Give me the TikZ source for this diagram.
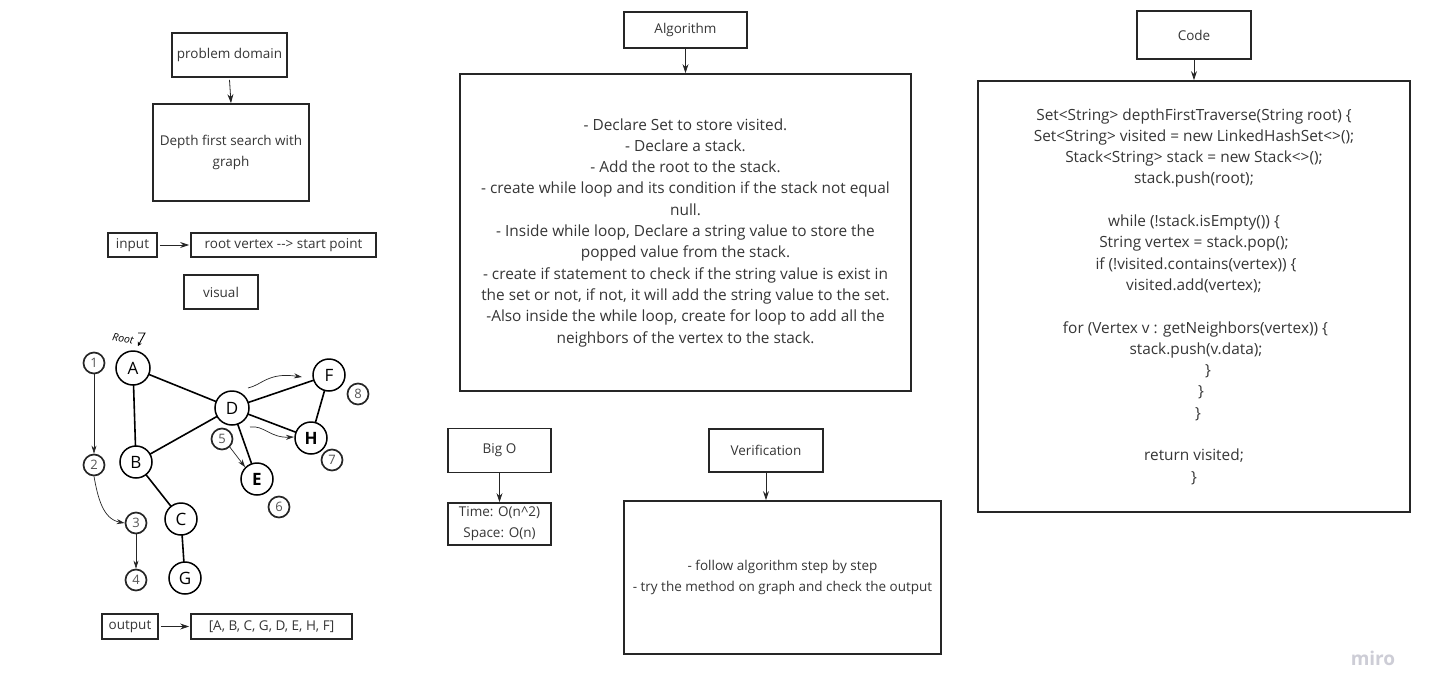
\documentclass[tikz,border=0pt]{standalone}
\usepackage{fontspec}
\setmainfont{Open Sans}
\usetikzlibrary{arrows.meta}
\definecolor{boxline}{HTML}{262626}
\definecolor{txt}{HTML}{363636}
\definecolor{numtxt}{HTML}{555555}
\definecolor{logo}{HTML}{CDCDD6}
\begin{document}
\begin{tikzpicture}[x=1pt,y=-1pt,
  box/.style={draw=boxline, line width=1.7pt, rectangle, inner sep=0pt, align=center,
    text=txt, font=\fontsize{13.5}{21}\selectfont},
  bigtext/.style={font=\fontsize{15.4}{21.3}\selectfont},
  flow/.style={-{Stealth[length=9pt,width=6pt]}, line width=0.8pt, draw=boxline},
  vtx/.style={circle, draw=black, line width=1.5pt, fill=white, minimum size=32pt, inner sep=0pt,
    font=\fontsize{17}{17}\selectfont},
  num/.style={circle, draw=boxline, line width=1.7pt, fill=white, minimum size=21pt, inner sep=0pt,
    text=numtxt, font=\fontsize{13}{13}\selectfont},
  edge/.style={line width=1.6pt, draw=black},
  hint/.style={-{Stealth[length=8pt,width=5pt]}, line width=0.7pt, draw=boxline}]
\useasboundingbox (0,0) rectangle (1430,699);
\fill[white] (0,0) rectangle (1430,699);

% ---- problem domain column ----
\node[box, minimum width=115pt, minimum height=44pt] (pd) at (229.5,55) {problem domain};
\node[box, minimum width=156pt, minimum height=97pt] (dfs) at (231,152.5) {Depth first search with\\graph};
\draw[flow] (pd.south) ++(0,2) coordinate (pds) (pds) -- (dfs.north);
\node[box, minimum width=49pt, minimum height=24pt] (inp) at (132.5,245) {input};
\node[box, minimum width=185pt, minimum height=24pt] (rootv) at (283.5,245) {root vertex {-}{-}> start point};
\draw[flow, shorten <=2pt, shorten >=1pt] (inp.east) -- (rootv.west);
\node[box, minimum width=74pt, minimum height=34pt] (vis) at (221,292) {visual};
\node[box, minimum width=56pt, minimum height=25pt] (outp) at (130,626.5) {output};
\node[box, minimum width=161pt, minimum height=25pt] (res) at (271.5,626.5) {[A, B, C, G, D, E, H, F]};
\draw[flow, shorten <=2pt, shorten >=1pt] (outp.east) -- (res.west);

% ---- graph ----
\draw[edge] (133,368) coordinate (pA) -- (232,408) coordinate (pD);
\draw[edge] (pA) -- (136,462) coordinate (pB);
\draw[edge] (pB) -- (pD);
\draw[edge] (pD) -- (329,375) coordinate (pF);
\draw[edge] (pD) -- (311,438) coordinate (pH);
\draw[edge] (pD) -- (257,479) coordinate (pE);
\draw[edge] (pF) -- (pH);
\draw[edge] (pB) -- (181,519) coordinate (pC);
\draw[edge] (pC) -- (185,578) coordinate (pG);
\node[vtx, minimum size=34pt] (A) at (pA) {A};
\node[vtx, minimum size=34pt] (D) at (pD) {D};
\node[vtx] (B) at (pB) {B};
\node[vtx] (F) at (pF) {F};
\node[vtx] (H) at (pH) {\textbf{H}};
\node[vtx] (E) at (pE) {\textbf{E}};
\node[vtx] (C) at (pC) {C};
\node[vtx] (G) at (pG) {G};

% visiting order
\node[num] (n1) at (94,363) {1};
\node[num] (n2) at (94,465) {2};
\node[num] (n3) at (136,523) {3};
\node[num] (n4) at (136,580) {4};
\node[num] (n5) at (222,439) {5};
\node[num] (n6) at (279,507) {6};
\node[num] (n7) at (332,460) {7};
\node[num] (n8) at (358,394) {8};
\draw[hint] (n1) -- (n2);
\draw[hint] (n2.south) to[out=-80,in=170] (n3.west);
\draw[hint] (n3) -- (n4);
\draw[hint] (n5.south east) ++(-1,-1) coordinate (n5e) (n5e) -- (E.north west);

% traversal hints
\coordinate (w1s) at (248,388);
\coordinate (w1e) at (302,377);
\draw[hint] (w1s) .. controls (262,385) and (268,372) .. (w1e);
\coordinate (w2s) at (250,427);
\coordinate (w2e) at (294,437);
\draw[hint] (w2s) .. controls (264,425) and (270,438) .. (w2e);

% root marker
\node[font=\fontsize{10.5}{10.5}\itshape\selectfont, rotate=-10, inner sep=0pt] (rootlbl) at (123,339) {Root};
\coordinate (z1) at (138,333);
\coordinate (z2) at (145,333);
\coordinate (z3) at (138,346);
\draw[line width=0.9pt, -{Stealth[length=4pt,width=4.5pt]}] (z1) -- (z2) -- (z3);

% ---- algorithm ----
\node[box, minimum width=123pt, minimum height=36pt] (alg) at (685.5,30) {Algorithm};
\node[box, bigtext, minimum width=451pt, minimum height=317pt] (algbox) at (685.5,232.5) {%
- Declare Set to store visited.\\
- Declare a stack.\\
- Add the root to the stack.\\
- create while loop and its condition if the stack not equal\\
null.\\
- Inside while loop, Declare a string value to store the\\
popped value from the stack.\\
- create if statement to check if the string value is exist in\\
the set or not, if not, it will add the string value to the set.\\
-Also inside the while loop, create for loop to add all the\\
neighbors of the vertex to the stack.};
\draw[flow] (alg.south) -- (algbox.north);

% ---- big O ----
\node[box, minimum width=103pt, minimum height=44pt] (bigo) at (499.5,450.5) {Big O};
\node[box, minimum width=103pt, minimum height=42pt] (cx) at (499.5,524) {Time: O(n\textasciicircum 2)\\Space: O(n)};
\draw[flow] (bigo.south) -- (cx.north);

% ---- verification ----
\node[box, minimum width=114pt, minimum height=43pt] (ver) at (766,450.5) {Verification};
\node[box, minimum width=317pt, minimum height=153pt] (verbox) at (782.5,577.5) {%
- follow algorithm step by step\\
- try the method on graph and check the output};
\draw[flow] (ver.south) -- (ver.south |- verbox.north);

% ---- code ----
\node[box, minimum width=114pt, minimum height=48pt] (code) at (1194,35) {Code};
\node[box, bigtext, minimum width=432pt, minimum height=431pt] (codebox) at (1194,296.5) {%
Set<String> depthFirstTraverse(String root) \{\\
Set<String> visited = new LinkedHashSet<>();\\
Stack<String> stack = new Stack<>();\\
stack.push(root);\\[21.3pt]
while (!stack.isEmpty()) \{\\
String vertex = stack.pop();\\
\hspace*{4pt}if (!visited.contains(vertex)) \{\\
visited.add(vertex);\\[21.3pt]
\hspace*{3pt}for (Vertex v : getNeighbors(vertex)) \{\\
\hspace*{4pt}stack.push(v.data);\\
\hspace*{28pt}\}\\
\hspace*{14pt}\}\\
\hspace*{8pt}\}\\[21.3pt]
return visited;\\
\}};
\draw[flow] (code.south) -- (codebox.north);

% logo
\node[text=logo, font=\fontsize{19}{19}\bfseries\selectfont] (logo) at (1373,658) {miro};
\end{tikzpicture}
\end{document}
